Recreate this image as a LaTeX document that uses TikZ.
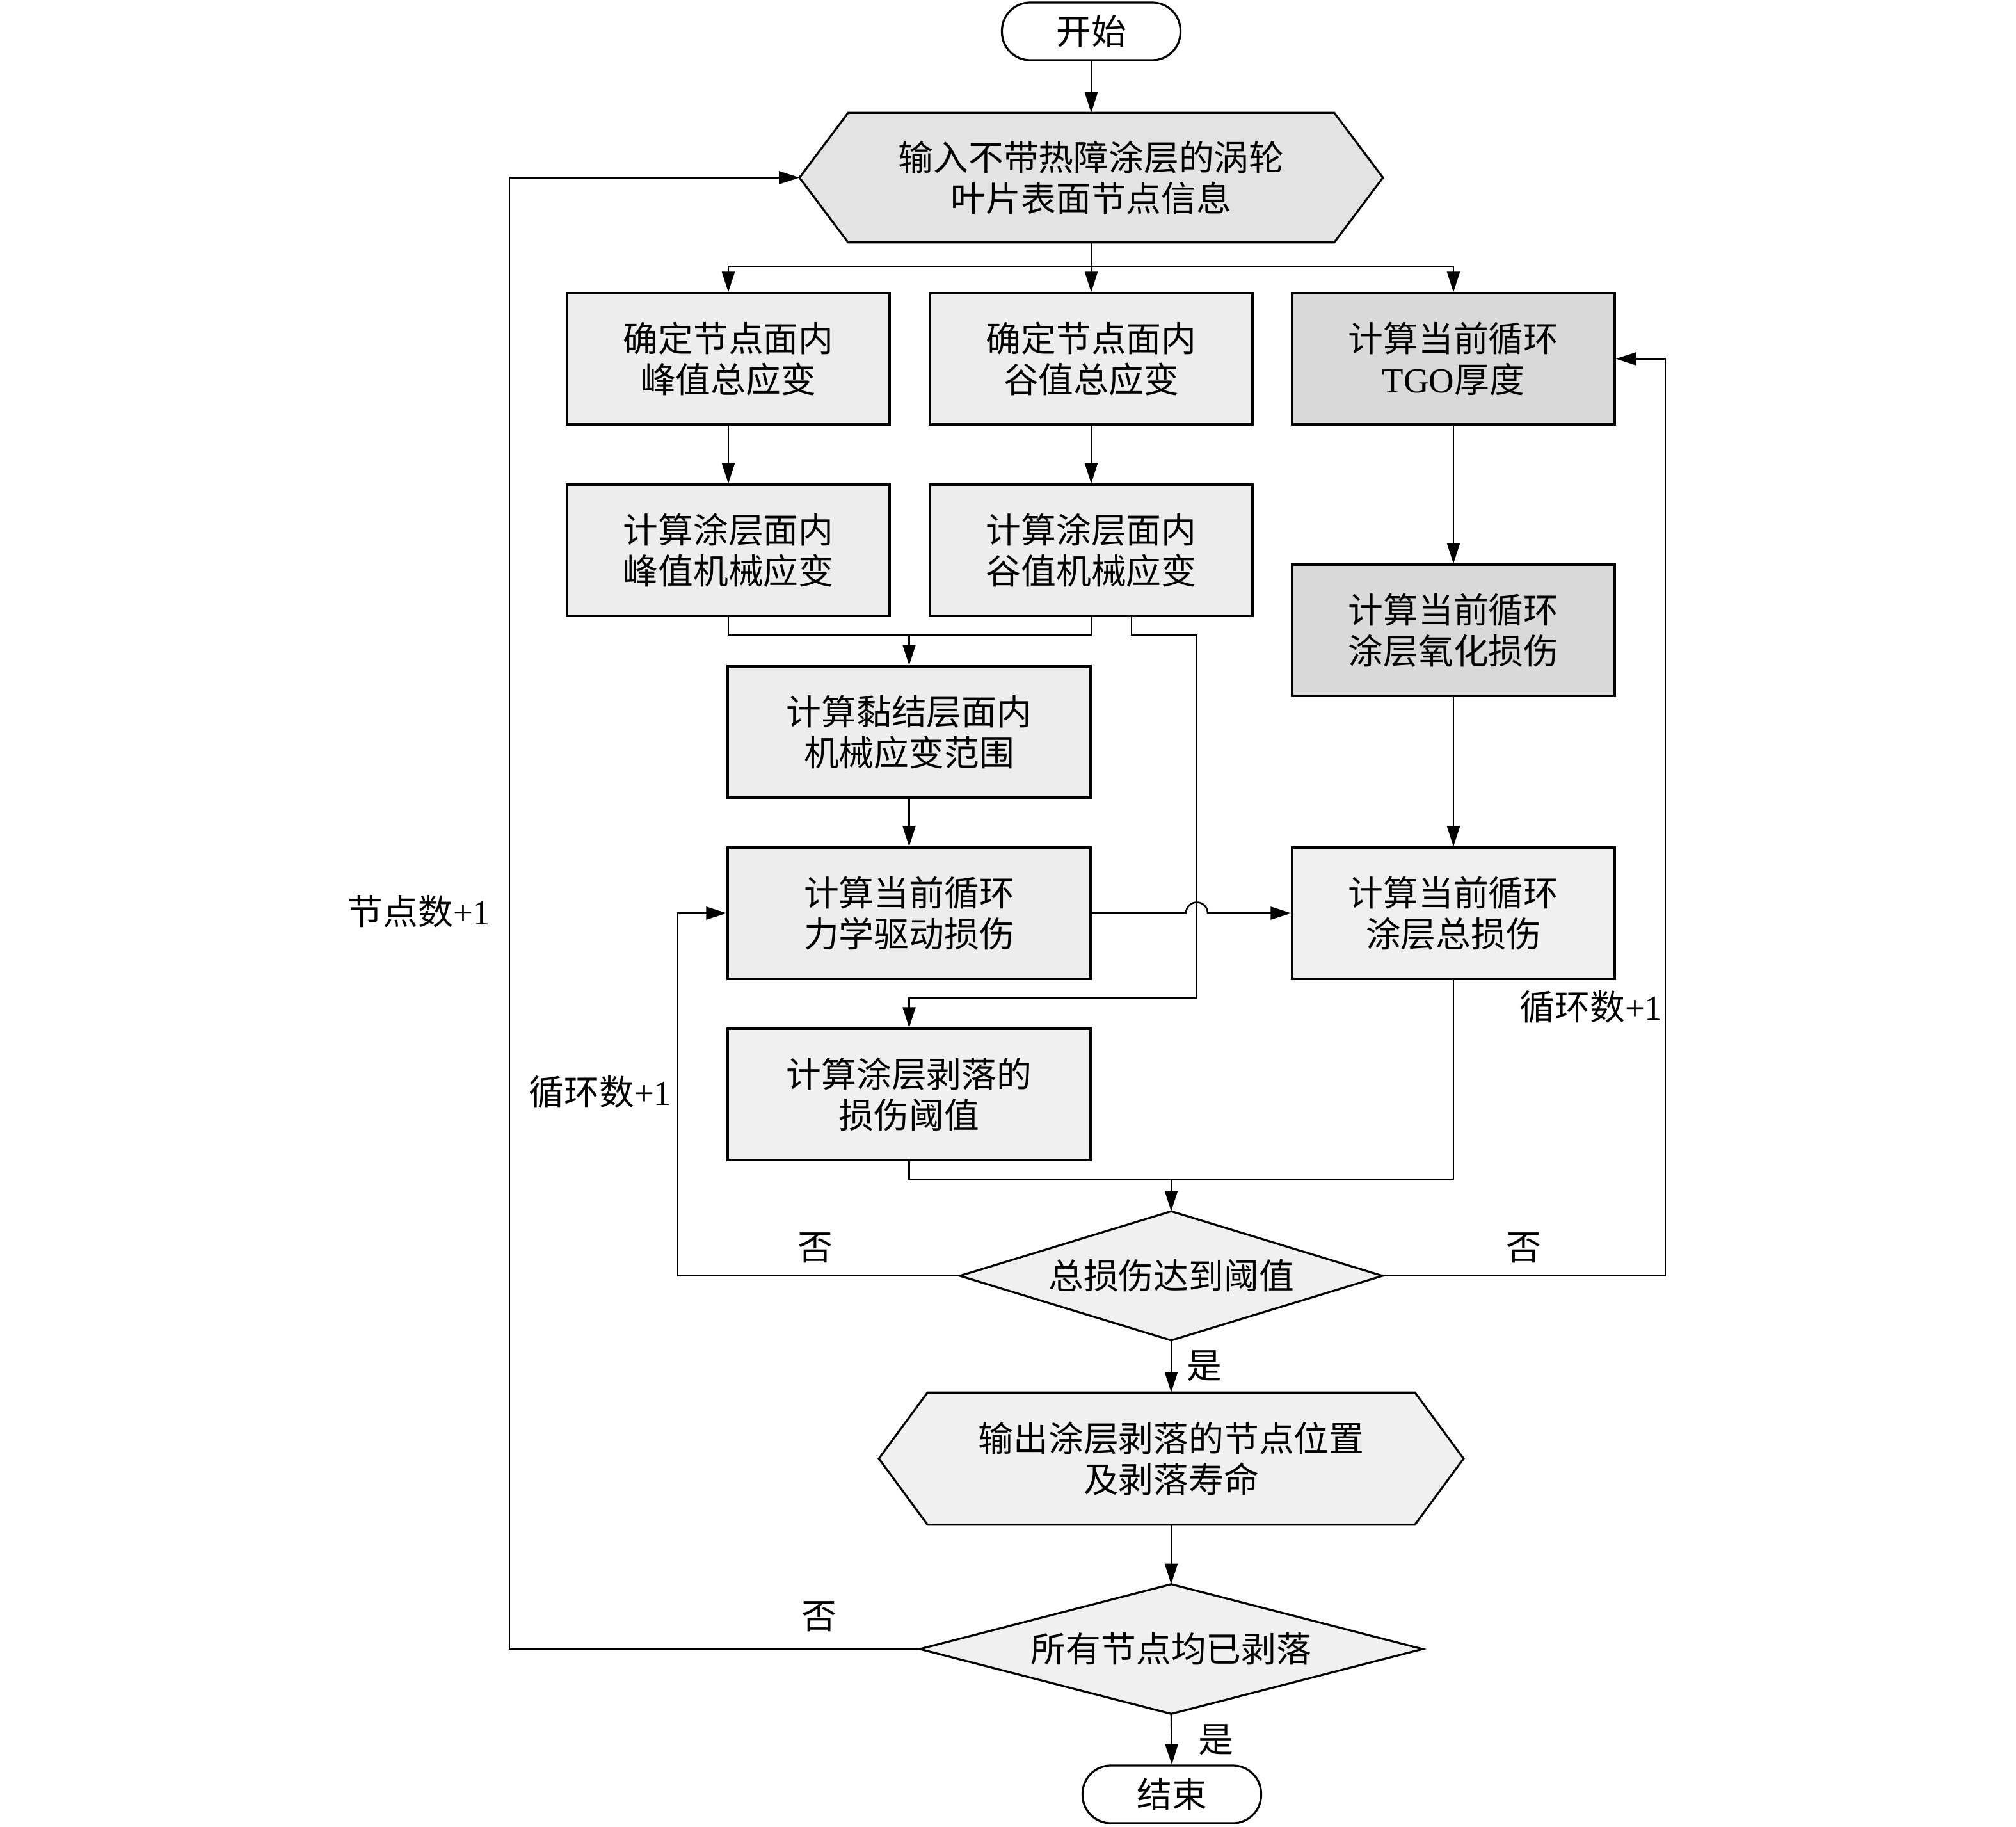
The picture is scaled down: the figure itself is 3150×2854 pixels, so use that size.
\documentclass[tikz,border=0pt]{standalone}
\usepackage{fontspec}
\setmainfont{Liberation Serif}
\newfontfamily\cjk{Noto Sans CJK SC}
\newfontfamily\lat{Liberation Serif}
\usetikzlibrary{arrows.meta,calc}
\definecolor{boxgray}{HTML}{EDEDED}
\definecolor{tgogray}{HTML}{D9D9D9}
\definecolor{hexgray}{HTML}{E3E3E3}
\definecolor{lightgray}{HTML}{F0F0F0}
\pgfdeclarelayer{bg}
\pgfsetlayers{bg,main}
\begin{document}
\begin{tikzpicture}[x=0.25pt,y=-0.25pt,
  txt/.style={font=\cjk\fontsize{13.7}{16}\selectfont, align=center, inner sep=0pt},
  box/.style={txt, draw, line width=0.8pt, fill=boxgray, minimum width=126pt, minimum height=51.25pt},
  widebox/.style={box, minimum width=141.75pt},
  term/.style={txt, draw, line width=0.8pt, fill=white, rounded corners=11pt, minimum width=69.75pt, minimum height=22.5pt},
  frame/.style={txt, minimum width=#1, minimum height=50.25pt},
  outline/.style={draw, line width=0.8pt},
  line/.style={line width=0.65pt},
  arr/.style={line, -{Triangle[length=8pt,width=5pt]}},
  lab/.style={txt}
]
\useasboundingbox (0,0) rectangle (3150,2854);

% nodes
\node[term] (start) at (1705,49) {开始};
\node[frame=227.5pt] (inp) at (1705,277.5) {输入不带热障涂层的涡轮\\叶片表面节点信息};
\node[box] (b1) at (1138,560.5) {确定节点面内\\峰值总应变};
\node[box] (b2) at (1705,560.5) {确定节点面内\\谷值总应变};
\node[box, fill=tgogray] (b3) at (2271,560.5) {计算当前循环\\{\lat TGO}厚度};
\node[box] (b4) at (1138,859.5) {计算涂层面内\\峰值机械应变};
\node[box] (b5) at (1705,859.5) {计算涂层面内\\谷值机械应变};
\node[box, fill=tgogray] (b6) at (2271,984.5) {计算当前循环\\涂层氧化损伤};
\node[widebox] (bond) at (1420.5,1143.5) {计算黏结层面内\\机械应变范围};
\node[widebox] (mech) at (1420.5,1426.5) {计算当前循环\\力学驱动损伤};
\node[widebox, fill=lightgray] (thr) at (1420.5,1709.5) {计算涂层剥落的\\损伤阈值};
\node[box, fill=lightgray!60!boxgray] (total) at (2271,1426.5) {计算当前循环\\涂层总损伤};
\node[frame=164.75pt, minimum height=50pt] (d1) at (1830,1993) {总损伤达到阈值};
\node[frame=228pt, minimum height=51.25pt] (out) at (1830,2278.5) {输出涂层剥落的节点位置\\及剥落寿命};
\node[frame=196pt] (d2) at (1830,2576) {所有节点均已剥落};
\node[term] (end) at (1831,2803) {结束};

% shapes drawn behind text
\begin{pgfonlayer}{bg}
\draw[outline, fill=hexgray] (inp.west) -- ([xshift=19pt]inp.north west) -- ([xshift=-19pt]inp.north east) -- (inp.east) -- ([xshift=-19pt]inp.south east) -- ([xshift=19pt]inp.south west) -- cycle;
\draw[outline, fill=lightgray] (out.west) -- ([xshift=19pt]out.north west) -- ([xshift=-19pt]out.north east) -- (out.east) -- ([xshift=-19pt]out.south east) -- ([xshift=19pt]out.south west) -- cycle;
\draw[outline, fill=lightgray] (d1.west) -- (d1.north) -- (d1.east) -- (d1.south) -- cycle;
\draw[outline, fill=lightgray] (d2.west) -- (d2.north) -- (d2.east) -- (d2.south) -- cycle;
\end{pgfonlayer}

% bend coordinates
\coordinate (br) at (1705,416);
\coordinate (mj) at (1420.5,992);
\coordinate (c1) at (1870,992);
\coordinate (c2) at (1870,1559);
\coordinate (hopL) at (1853,1426.5);
\coordinate (j2) at (1830,1842);
\coordinate (l1) at (1059,1426.5);
\coordinate (r1) at (2602,560.5);
\coordinate (l2) at (796,277.5);

% connectors
\draw[arr] (start) -- (inp.north);
\draw[line] (inp.south) -- (br);
\draw[arr] (br) -| (b1.north);
\draw[arr] (br) -- (b2.north);
\draw[arr] (br) -| (b3.north);
\draw[arr] (b1) -- (b4);
\draw[arr] (b2) -- (b5);
\draw[arr] (b3) -- (b6);
\draw[arr] (b6) -- (total);
\draw[line] (b4.south) |- (mj) -| (b5.south);
\draw[arr] (mj) -- (bond.north);
\draw[arr] ($(b5.south)+(63,0)$) |- (c1) -- (c2) -| (thr.north);
\draw[arr] (bond) -- (mech);
\draw[arr] (mech.east) -- (hopL) arc[start angle=180, end angle=0, radius=4.25pt] -- (total.west);
\draw[line] (thr.south) |- (j2);
\draw[line] (total.south) |- (j2);
\draw[arr] (j2) -- (d1.north);
\draw[arr] (d1.west) -| (l1) -- (mech.west);
\draw[arr] (d1.east) -| (r1) -- (b3.east);
\draw[arr] (d1.south) -- (out.north);
\draw[arr] (out.south) -- (d2.north);
\draw[arr] (d2.south) -- (end.north);
\draw[arr] (d2.west) -| (l2) -- (inp.west);

% labels
\node[lab] (n1) at (1274,1949) {否};
\node[lab] (n2) at (2381,1949) {否};
\node[lab] (n3) at (1280,2525) {否};
\node[lab] (y1) at (1882,2134) {是};
\node[lab] (y2) at (1900,2718) {是};
\node[lab] (cyc1) at (938,1706) {循环数{\lat +1}};
\node[lab] (cyc2) at (2486,1573) {循环数{\lat +1}};
\node[lab] (nod) at (655,1424) {节点数{\lat +1}};
\end{tikzpicture}
\end{document}
